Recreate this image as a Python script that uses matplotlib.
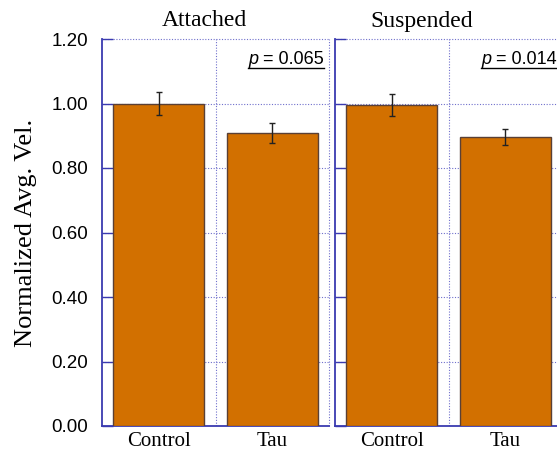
import matplotlib
matplotlib.use("Agg")
import matplotlib.pyplot as plt
from matplotlib.lines import Line2D

categories = ["Control", "Tau"]
panels = ["Attached", "Suspended"]
values = {"Attached": [1.00, 0.908], "Suspended": [0.995, 0.896]}
errors = {"Attached": [0.037, 0.030], "Suspended": [0.033, 0.025]}
pvals = {"Attached": "0.065", "Suspended": "0.014"}
yticks = [0.0, 0.2, 0.4, 0.6, 0.8, 1.0, 1.2]

BAR = "#D27000"
EDGE = "#5a4035"
BLUE = "#3a3ab0"
GRID = "#7070cc"

fig = plt.figure(figsize=(5.57, 4.5), dpi=100)
W, H = 557, 450
ax_l = fig.add_axes([102 / W, 24 / H, 227 / W, 387 / H])
ax_r = fig.add_axes([335 / W, 24 / H, 227 / W, 387 / H])

DOT = (0, (1, 1.5))
title_x = {"Attached": 204.5, "Suspended": 421.5}
for ax, name in zip([ax_l, ax_r], panels):
    x = list(range(len(categories)))
    ax.bar(x, values[name], width=0.8, color=BAR, edgecolor=EDGE, linewidth=1.0, zorder=3)
    ax.errorbar(x, values[name], yerr=errors[name], fmt="none", ecolor="#222222",
                elinewidth=1.0, capsize=2.5, capthick=1.0, zorder=4)
    ax.set_xlim(-0.5, 1.5)
    ax.set_ylim(0, 1.2)
    ax.set_yticks(yticks)
    ax.set_xticks(x)
    ax.set_xticklabels(categories, fontfamily="Liberation Serif", fontsize=15)
    ax.tick_params(axis="x", length=0, pad=4)
    ax.tick_params(axis="y", direction="in", length=8, width=1, color=BLUE)
    for yv in yticks[1:-1]:
        ax.axhline(yv, color=GRID, linestyle=DOT, linewidth=0.8, zorder=1)
    ax.axvline(0.5, color=GRID, linestyle=DOT, linewidth=0.8, zorder=1)
    ax.spines["left"].set_color(BLUE)
    ax.spines["left"].set_linewidth(1.3)
    ax.spines["bottom"].set_color(BLUE)
    ax.spines["bottom"].set_linewidth(1.3)
    for s in ["top", "right"]:
        ax.spines[s].set_visible(False)
    ax.axhline(1.2, color=GRID, linestyle=DOT, linewidth=0.8, zorder=1, clip_on=False)
    ax.axvline(1.5, color=GRID, linestyle=DOT, linewidth=0.8, zorder=1, clip_on=False)
    fig.text(title_x[name] / W, (H - 21) / H, name, fontfamily="Liberation Serif",
             fontsize=17, ha="center", va="center")

ax_l.set_yticklabels(["%.2f" % v for v in yticks], fontfamily="Liberation Sans", fontsize=13.5)
ax_l.tick_params(axis="y", pad=10)
ax_r.set_yticklabels([])
ax_l.set_ylabel("Normalized Avg. Vel.", fontfamily="Liberation Serif", fontsize=19, labelpad=10)

fig.canvas.draw()
renderer = fig.canvas.get_renderer()
right_px = {"Attached": 324, "Suspended": 557}
for name in panels:
    rx = right_px[name]
    y_px = H - 60
    t2 = fig.text(rx / W, y_px / H, " = " + pvals[name], fontfamily="Liberation Sans",
                  fontsize=13, ha="right", va="center")
    fig.canvas.draw()
    bb2 = t2.get_window_extent(renderer)
    t1 = fig.text(bb2.x0 / W, y_px / H, "p", fontfamily="Liberation Sans", fontstyle="italic",
                  fontsize=13, ha="right", va="center")
    fig.canvas.draw()
    bb1 = t1.get_window_extent(renderer)
    uy = (H - 67.5) / H
    fig.add_artist(Line2D([bb1.x0 / W, bb2.x1 / W], [uy, uy], color="black", linewidth=1.0,
                          transform=fig.transFigure))

fig.savefig("out.png", dpi=100)
